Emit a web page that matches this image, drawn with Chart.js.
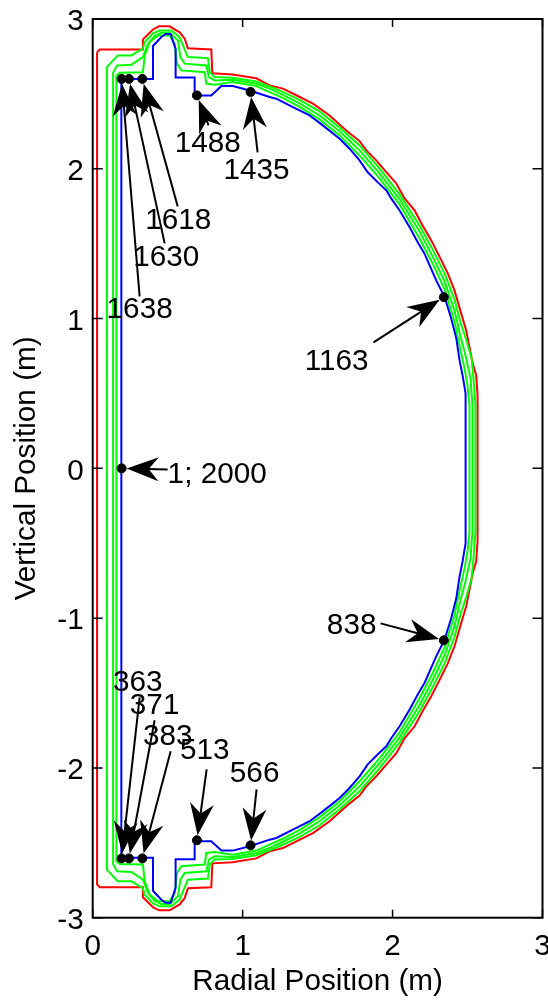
<!DOCTYPE html>
<html>
<head>
<meta charset="utf-8">
<title>Radial and vertical position</title>
<script src="https://cdn.jsdelivr.net/npm/chart.js@4/dist/chart.umd.min.js"></script>
<style>
  html, body { margin: 0; padding: 0; background: #fff; }
  canvas { display: block; }
</style>
</head>
<body>
<canvas id="chart" width="548" height="1000"></canvas>
<script>
// Axis ticks
const xTicks = [0, 1, 2, 3];
const yTicks = [-3, -2, -1, 0, 1, 2, 3];
const xTitle = "Radial Position (m)";
const yTitle = "Vertical Position (m)";

// Outer contour (red)
const redR = [0.029,0.047,0.335,0.335,0.402,0.442,0.513,0.58,0.613,0.635,0.791,0.798,0.933,1.091,1.18,1.269,1.358,1.469,1.58,1.691,1.78,1.825,1.891,1.958,2.025,2.08,2.147,2.2,2.258,2.309,2.369,2.413,2.458,2.491,2.535,2.558,2.567,
              2.567,2.558,2.535,2.491,2.458,2.413,2.369,2.309,2.258,2.2,2.147,2.08,2.025,1.958,1.891,1.825,1.78,1.691,1.58,1.469,1.358,1.269,1.18,1.091,0.933,0.798,0.791,0.635,0.613,0.58,0.513,0.442,0.402,0.335,0.335,0.047,0.029,0.029];
const redZ = [2.777,2.797,2.797,2.864,2.93,2.951,2.951,2.911,2.87,2.804,2.797,2.637,2.63,2.604,2.557,2.535,2.491,2.435,2.356,2.256,2.185,2.123,2.056,1.978,1.902,1.802,1.722,1.622,1.522,1.422,1.3,1.188,1.033,0.921,0.699,0.621,0.487,
              -0.487,-0.621,-0.699,-0.921,-1.033,-1.188,-1.3,-1.422,-1.522,-1.622,-1.722,-1.802,-1.902,-1.978,-2.056,-2.123,-2.185,-2.256,-2.356,-2.435,-2.491,-2.535,-2.557,-2.604,-2.63,-2.637,-2.797,-2.804,-2.87,-2.911,-2.951,-2.951,-2.93,-2.864,-2.797,-2.797,-2.777,2.777];

// Green contours, from outer to inner
const green3R = [0.095,0.167,0.258,0.335,0.347,0.402,0.447,0.525,0.58,0.607,0.635,0.769,0.78,0.813,0.933,1.091,1.18,1.267,1.38,1.513,1.647,1.78,1.913,2.047,2.18,2.267,2.347,2.413,2.453,2.493,2.527,2.54,2.553,
                 2.553,2.54,2.527,2.493,2.453,2.413,2.347,2.267,2.18,2.047,1.913,1.78,1.647,1.513,1.38,1.267,1.18,1.091,0.933,0.813,0.78,0.769,0.635,0.607,0.58,0.525,0.447,0.402,0.347,0.335,0.258,0.167,0.095,0.095];
const green3Z = [2.679,2.757,2.757,2.802,2.846,2.904,2.924,2.924,2.879,2.812,2.746,2.739,2.646,2.612,2.608,2.583,2.55,2.513,2.46,2.383,2.276,2.156,2.003,1.829,1.622,1.462,1.302,1.128,0.975,0.854,0.734,0.601,0.421,
                 -0.421,-0.601,-0.734,-0.854,-0.975,-1.128,-1.302,-1.462,-1.622,-1.829,-2.003,-2.156,-2.276,-2.383,-2.46,-2.513,-2.55,-2.583,-2.608,-2.612,-2.646,-2.739,-2.746,-2.812,-2.879,-2.924,-2.924,-2.904,-2.846,-2.802,-2.757,-2.757,-2.679,2.679];

const green2R = [0.136,0.163,0.258,0.335,0.369,0.413,0.458,0.513,0.569,0.585,0.613,0.758,0.775,0.813,0.933,1.091,1.18,1.267,1.38,1.513,1.647,1.78,1.913,2.047,2.18,2.267,2.347,2.413,2.453,2.487,2.52,2.533,
                 2.533,2.52,2.487,2.453,2.413,2.347,2.267,2.18,2.047,1.913,1.78,1.647,1.513,1.38,1.267,1.18,1.091,0.933,0.813,0.775,0.758,0.613,0.585,0.569,0.513,0.458,0.413,0.369,0.335,0.258,0.163,0.136,0.136];
const green2Z = [2.642,2.69,2.695,2.746,2.835,2.886,2.909,2.909,2.857,2.746,2.702,2.69,2.612,2.59,2.595,2.568,2.535,2.493,2.437,2.356,2.25,2.123,1.969,1.796,1.582,1.415,1.248,1.055,0.881,0.754,0.601,0.421,
                 -0.421,-0.601,-0.754,-0.881,-1.055,-1.248,-1.415,-1.582,-1.796,-1.969,-2.123,-2.25,-2.356,-2.437,-2.493,-2.535,-2.568,-2.595,-2.59,-2.612,-2.69,-2.702,-2.746,-2.857,-2.909,-2.909,-2.886,-2.835,-2.746,-2.695,-2.69,-2.642,2.642];

const green1R = [0.158,0.18,0.335,0.347,0.38,0.435,0.513,0.547,0.562,0.591,0.747,0.758,0.813,0.933,1.091,1.18,1.267,1.38,1.513,1.647,1.78,1.913,2.047,2.18,2.267,2.347,2.413,2.453,2.48,2.5,2.513,
                 2.513,2.5,2.48,2.453,2.413,2.347,2.267,2.18,2.047,1.913,1.78,1.647,1.513,1.38,1.267,1.18,1.091,0.933,0.813,0.758,0.747,0.591,0.562,0.547,0.513,0.435,0.38,0.347,0.335,0.18,0.158,0.158];
const green1Z = [2.623,2.641,2.645,2.757,2.846,2.89,2.89,2.835,2.702,2.657,2.645,2.568,2.561,2.579,2.552,2.512,2.473,2.413,2.33,2.223,2.089,1.936,1.762,1.535,1.368,1.195,0.981,0.788,0.668,0.554,0.421,
                 -0.421,-0.554,-0.668,-0.788,-0.981,-1.195,-1.368,-1.535,-1.762,-1.936,-2.089,-2.223,-2.33,-2.413,-2.473,-2.512,-2.552,-2.579,-2.561,-2.568,-2.645,-2.657,-2.702,-2.835,-2.89,-2.89,-2.846,-2.757,-2.645,-2.641,-2.623,2.623];

// Inner contour (blue)
const blueR = [0.191,0.402,0.402,0.458,0.487,0.52,0.553,0.553,0.68,0.68,0.791,0.858,0.935,1.047,1.18,1.225,1.335,1.447,1.535,1.647,1.713,1.78,1.833,1.9,1.958,1.991,2.047,2.113,2.167,2.213,2.291,2.347,2.391,2.425,2.447,2.467,2.487,
               2.487,2.467,2.447,2.425,2.391,2.347,2.291,2.213,2.167,2.113,2.047,1.991,1.958,1.9,1.833,1.78,1.713,1.647,1.535,1.447,1.335,1.225,1.18,1.047,0.935,0.858,0.791,0.68,0.68,0.553,0.553,0.52,0.487,0.458,0.402,0.402,0.191,0.191];
const blueZ = [2.6,2.6,2.82,2.88,2.9,2.9,2.8,2.61,2.61,2.49,2.49,2.552,2.552,2.523,2.479,2.468,2.412,2.356,2.29,2.201,2.134,2.056,1.978,1.911,1.856,1.802,1.722,1.611,1.511,1.433,1.255,1.144,1.001,0.868,0.721,0.621,0.501,
               -0.501,-0.621,-0.721,-0.868,-1.001,-1.144,-1.255,-1.433,-1.511,-1.611,-1.722,-1.802,-1.856,-1.911,-1.978,-2.056,-2.134,-2.201,-2.29,-2.356,-2.412,-2.468,-2.479,-2.523,-2.552,-2.552,-2.49,-2.49,-2.61,-2.61,-2.8,-2.9,-2.9,-2.88,-2.82,-2.6,-2.6,2.6];

// Labelled points and their arrows
const pointNames = ["1638", "1630", "1618", "1488", "1435", "1163", "1; 2000", "838", "566", "513", "383", "371", "363"];
const pointR = [0.193, 0.242, 0.331, 0.695, 1.053, 2.342, 0.193, 2.342, 1.053, 0.695, 0.331, 0.242, 0.193];
const pointZ = [2.6, 2.6, 2.6, 2.49, 2.513, 1.143, 0, -1.148, -2.517, -2.483, -2.604, -2.604, -2.604];
const tailR = [0.313, 0.48, 0.567, 0.773, 1.1, 1.873, 0.5, 1.92, 1.093, 0.76, 0.52, 0.413, 0.313];
const tailZ = [1.148, 1.502, 1.749, 2.29, 2.11, 0.841, -0.007, -1.035, -2.143, -2.009, -1.889, -1.682, -1.529];
const labelR = [0.313, 0.49, 0.57, 0.767, 1.093, 1.627, 0.83, 1.727, 1.08, 0.747, 0.5, 0.413, 0.3];
const labelZ = [1.061, 1.409, 1.656, 2.17, 1.989, 0.714, -0.04, -1.048, -2.036, -1.889, -1.789, -1.582, -1.429];

const fontFamily = "'Liberation Sans', Arial, sans-serif";
const fontSize = 29.7;

// Turn two arrays into {x, y} points for the scatter chart
function toPoints(xs, ys) {
    return xs.map((x, i) => ({ x: x, y: ys[i] }));
}

function contour(xs, ys, color) {
    return {
        data: toPoints(xs, ys),
        showLine: true,
        borderColor: color,
        borderWidth: 2,
        pointRadius: 0,
        tension: 0,
        fill: false
    };
}

// Black frame with inward ticks on all four sides
const boxPlugin = {
    id: "box",
    afterDatasetsDraw(chart) {
        const ctx = chart.ctx;
        const area = chart.chartArea;
        ctx.save();
        ctx.strokeStyle = "#000";
        ctx.lineWidth = 2;
        ctx.strokeRect(area.left, area.top, area.right - area.left, area.bottom - area.top);
        ctx.lineWidth = 1.5;
        ctx.beginPath();
        xTicks.forEach(v => {
            const px = chart.scales.x.getPixelForValue(v);
            ctx.moveTo(px, area.top);
            ctx.lineTo(px, area.top + 8);
            ctx.moveTo(px, area.bottom);
            ctx.lineTo(px, area.bottom - 8);
        });
        yTicks.forEach(v => {
            const py = chart.scales.y.getPixelForValue(v);
            ctx.moveTo(area.left, py);
            ctx.lineTo(area.left + 10, py);
            ctx.moveTo(area.right, py);
            ctx.lineTo(area.right - 10, py);
        });
        ctx.stroke();
        ctx.restore();
    }
};

// Arrows from each label to its point, and the label text
const arrowPlugin = {
    id: "arrows",
    afterDatasetsDraw(chart) {
        const ctx = chart.ctx;
        const sx = chart.scales.x;
        const sy = chart.scales.y;
        ctx.save();
        ctx.strokeStyle = "#000";
        ctx.fillStyle = "#000";
        ctx.lineWidth = 2;
        pointNames.forEach((name, i) => {
            const px = sx.getPixelForValue(pointR[i]);
            const py = sy.getPixelForValue(pointZ[i]);
            const tx = sx.getPixelForValue(tailR[i]);
            const ty = sy.getPixelForValue(tailZ[i]);
            const angle = Math.atan2(py - ty, px - tx);
            const ux = Math.cos(angle);
            const uy = Math.sin(angle);
            // tip stops just short of the dot centre
            const tipX = px - ux * 5;
            const tipY = py - uy * 5;
            ctx.beginPath();
            ctx.moveTo(tx, ty);
            ctx.lineTo(tipX - ux * 20, tipY - uy * 20);
            ctx.stroke();
            // barbed head
            ctx.beginPath();
            ctx.moveTo(tipX, tipY);
            ctx.lineTo(tipX - ux * 32 - uy * 12, tipY - uy * 32 + ux * 12);
            ctx.lineTo(tipX - ux * 22, tipY - uy * 22);
            ctx.lineTo(tipX - ux * 32 + uy * 12, tipY - uy * 32 - ux * 12);
            ctx.closePath();
            ctx.fill();
        });
        ctx.font = fontSize + "px " + fontFamily;
        ctx.textAlign = "center";
        ctx.textBaseline = "middle";
        pointNames.forEach((name, i) => {
            ctx.fillText(name, sx.getPixelForValue(labelR[i]), sy.getPixelForValue(labelZ[i]));
        });
        ctx.restore();
    }
};

new Chart(document.getElementById("chart"), {
    type: "scatter",
    data: {
        datasets: [
            {
                data: toPoints(pointR, pointZ),
                backgroundColor: "#000",
                borderColor: "#000",
                pointRadius: 4.5,
                showLine: false
            },
            contour(blueR, blueZ, "#0000ff"),
            contour(green1R, green1Z, "#00ff00"),
            contour(green2R, green2Z, "#00ff00"),
            contour(green3R, green3Z, "#00ff00"),
            contour(redR, redZ, "#ff0000")
        ]
    },
    options: {
        responsive: false,
        animation: false,
        layout: { padding: { left: 0, top: 19, right: 5.3, bottom: 0 } },
        plugins: { legend: { display: false }, tooltip: { enabled: false } },
        scales: {
            x: {
                type: "linear",
                min: 0,
                max: 3,
                grid: { display: false },
                border: { display: false },
                afterBuildTicks(scale) { scale.ticks = xTicks.map(v => ({ value: v })); },
                afterFit(scale) { scale.height = 82.3; scale.paddingLeft = 0; scale.paddingRight = 0; },
                ticks: {
                    autoSkip: false,
                    maxRotation: 0,
                    padding: 3,
                    color: "#000",
                    font: { family: fontFamily, size: fontSize },
                    callback: v => String(v)
                },
                title: {
                    display: true,
                    text: xTitle,
                    color: "#000",
                    font: { family: fontFamily, size: fontSize },
                    padding: { top: 0, bottom: 0 }
                }
            },
            y: {
                type: "linear",
                min: -3,
                max: 3,
                grid: { display: false },
                border: { display: false },
                afterBuildTicks(scale) { scale.ticks = yTicks.map(v => ({ value: v })); },
                afterFit(scale) { scale.width = 92.7; scale.paddingTop = 0; scale.paddingBottom = 0; },
                ticks: {
                    autoSkip: false,
                    padding: 1,
                    labelOffset: 3,
                    color: "#000",
                    font: { family: fontFamily, size: fontSize },
                    callback: v => String(v)
                },
                title: {
                    display: true,
                    text: yTitle,
                    color: "#000",
                    font: { family: fontFamily, size: fontSize },
                    padding: { top: 9, bottom: 0 }
                }
            }
        }
    },
    plugins: [boxPlugin, arrowPlugin]
});
</script>
</body>
</html>
